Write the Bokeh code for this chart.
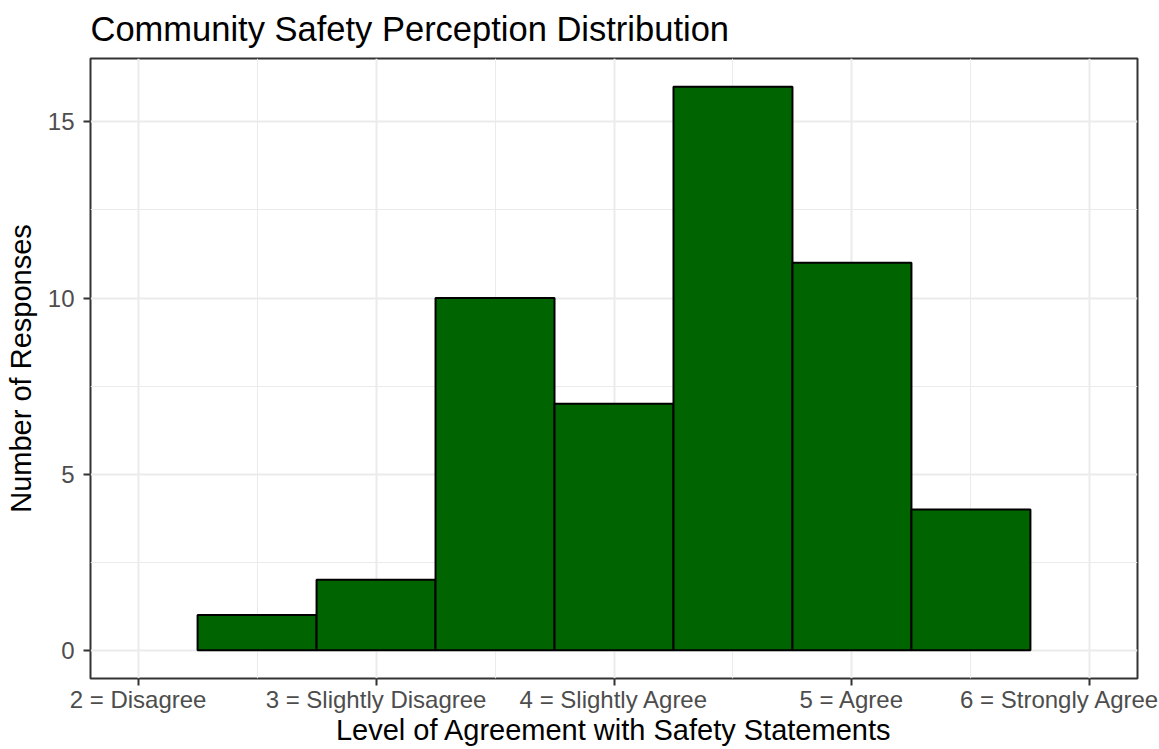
from bokeh.plotting import figure
from bokeh.models import Range1d, FixedTicker
from bokeh.embed import file_html
from bokeh.resources import INLINE

# ---- data ----
bin_centers = [2.5, 3.0, 3.5, 4.0, 4.5, 5.0, 5.5]
counts = [1, 2, 10, 7, 16, 11, 4]
bin_width = 0.5
x_ticks = [2, 3, 4, 5, 6]
x_tick_labels = ["2 = Disagree", "3 = Slightly Disagree", "4 = Slightly Agree",
                 "5 = Agree", "6 = Strongly Agree"]
y_ticks = [0, 5, 10, 15]

FONT = "Liberation Sans"

p = figure(width=1159, height=749, output_backend="svg", toolbar_location=None,
           x_range=Range1d(1.8, 6.2), y_range=Range1d(-0.8, 16.8),
           min_border_left=90, min_border_right=22, min_border_top=58,
           min_border_bottom=71,
           title="Community Safety Perception Distribution")

p.background_fill_color = "white"
p.border_fill_color = "white"
p.outline_line_color = "#333333"
p.outline_line_width = 2

p.title.text_font = FONT
p.title.text_font_size = "34.5px"
p.title.text_font_style = "normal"
p.title.text_color = "black"
p.title.vertical_align = "top"
p.title.standoff = 17
p.title.offset = 0

p.vbar(x=bin_centers, top=counts, bottom=0, width=bin_width,
       fill_color="#006400", line_color="black", line_width=2)

p.xaxis.ticker = FixedTicker(ticks=x_ticks, minor_ticks=[2.5, 3.5, 4.5, 5.5])
p.yaxis.ticker = FixedTicker(ticks=y_ticks, minor_ticks=[2.5, 7.5, 12.5])
p.xaxis.major_label_overrides = {t: l for t, l in zip(x_ticks, x_tick_labels)}

p.xaxis.axis_label = "Level of Agreement with Safety Statements"
p.yaxis.axis_label = "Number of Responses"

for ax in (p.xaxis, p.yaxis):
    ax.axis_line_color = None
    ax.major_tick_out = 7
    ax.major_tick_in = 0
    ax.major_tick_line_color = "#333333"
    ax.major_tick_line_width = 2
    ax.minor_tick_line_color = None
    ax.major_label_text_font = FONT
    ax.major_label_text_font_size = "24px"
    ax.major_label_text_color = "#4D4D4D"
    ax.axis_label_text_font = FONT
    ax.axis_label_text_font_size = "29px"
    ax.axis_label_text_font_style = "normal"
    ax.axis_label_text_color = "black"

p.xaxis.major_label_standoff = 0
p.xaxis.axis_label_standoff = -2
p.yaxis.major_label_standoff = 9
p.yaxis.axis_label_standoff = 8

for g in (p.xgrid, p.ygrid):
    g.grid_line_color = "#EBEBEB"
    g.grid_line_width = 2
    g.minor_grid_line_color = "#EBEBEB"
    g.minor_grid_line_width = 1

open("out.html", "w").write(file_html(p, INLINE))
